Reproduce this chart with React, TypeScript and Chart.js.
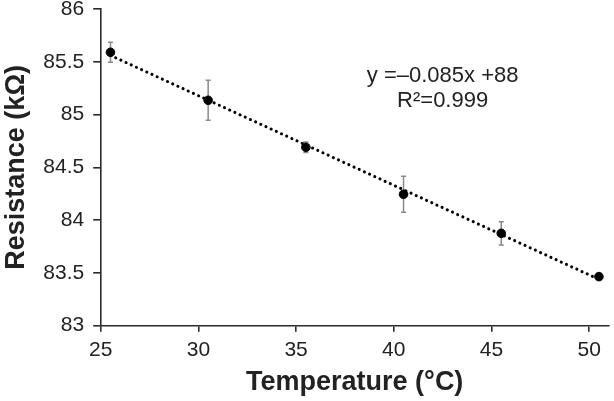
import React, { useEffect, useRef } from "react";
import { Chart, registerables } from "chart.js";

Chart.register(...registerables);

// ---- Data ----
const temperatures = [25.5, 30.5, 35.5, 40.5, 45.5, 50.5];
const resistance = [85.59, 85.135, 84.69, 84.245, 83.875, 83.465];
const errors = [0.095, 0.19, 0.05, 0.17, 0.11, 0.0];
const xTicks = [25, 30, 35, 40, 45, 50];
const yTicks = [83, 83.5, 84, 84.5, 85, 85.5, 86];
const equationLabel = "y =\u20130.085x +88";
const r2Label = "R\u00B2=0.999";
const xTitle = "Temperature (\u00B0C)";
const yTitle = "Resistance (k\u03A9)";

const FONT = "'Liberation Sans', Arial, Helvetica, sans-serif";

function regression(xs: number[], ys: number[]) {
  const n = xs.length;
  const mx = xs.reduce((a, b) => a + b, 0) / n;
  const my = ys.reduce((a, b) => a + b, 0) / n;
  let sxy = 0;
  let sxx = 0;
  for (let i = 0; i < n; i++) {
    sxy += (xs[i] - mx) * (ys[i] - my);
    sxx += (xs[i] - mx) * (xs[i] - mx);
  }
  const slope = sxy / sxx;
  return { slope, intercept: my - slope * mx };
}

export default function App() {
  const ref = useRef<HTMLCanvasElement | null>(null);

  useEffect(() => {
    if (!ref.current) return;
    const fit = regression(temperatures, resistance);
    const x0 = temperatures[0];
    const x1 = temperatures[temperatures.length - 1];
    const trend = [
      { x: x0, y: fit.intercept + fit.slope * x0 },
      { x: x1, y: fit.intercept + fit.slope * x1 },
    ];

    const extras = {
      id: "extras",
      beforeDatasetsDraw(chart: any) {
        const ctx = chart.ctx;
        const xs = chart.scales.x;
        const ys = chart.scales.y;
        ctx.save();
        ctx.strokeStyle = "#8a8a8a";
        ctx.lineWidth = 1.5;
        temperatures.forEach((t, i) => {
          const e = errors[i];
          if (!e) return;
          const px = xs.getPixelForValue(t);
          const top = ys.getPixelForValue(resistance[i] + e);
          const bot = ys.getPixelForValue(resistance[i] - e);
          ctx.beginPath();
          ctx.moveTo(px, top);
          ctx.lineTo(px, bot);
          ctx.moveTo(px - 2.5, top);
          ctx.lineTo(px + 2.5, top);
          ctx.moveTo(px - 2.5, bot);
          ctx.lineTo(px + 2.5, bot);
          ctx.stroke();
        });
        ctx.restore();
      },
      afterDraw(chart: any) {
        const ctx = chart.ctx;
        const xs = chart.scales.x;
        const ys = chart.scales.y;
        ctx.save();
        ctx.fillStyle = "#222";
        ctx.font = `22px ${FONT}`;
        ctx.textAlign = "center";
        ctx.textBaseline = "middle";
        const cx = xs.getPixelForValue(42.5);
        ctx.fillText(equationLabel, cx, ys.getPixelForValue(85.37));
        ctx.fillText(r2Label, cx, ys.getPixelForValue(85.125));
        ctx.restore();
      },
    };

    const chart = new Chart(ref.current, {
      type: "scatter",
      data: {
        datasets: [
          {
            label: "Resistance",
            data: temperatures.map((t, i) => ({ x: t, y: resistance[i] })),
            backgroundColor: "#000",
            borderColor: "#000",
            pointRadius: 4.3,
            pointHoverRadius: 4.3,
            showLine: false,
          },
          {
            label: "Trend",
            type: "line",
            data: trend,
            borderColor: "#000",
            borderWidth: 3,
            borderDash: [0.1, 5.6],
            borderCapStyle: "round",
            pointRadius: 0,
            fill: false,
          } as any,
        ],
      },
      options: {
        animation: false,
        responsive: false,
        devicePixelRatio: 1,
        layout: { padding: { top: 9, left: 0, right: 0, bottom: 0 } },
        plugins: {
          legend: { display: false },
          tooltip: { enabled: false },
          title: { display: false },
        },
        scales: {
          x: {
            type: "linear",
            min: 25,
            max: 51,
            afterBuildTicks: (scale: any) => {
              scale.ticks = xTicks.map((v) => ({ value: v }));
            },
            afterFit: (scale: any) => {
              scale.height = 75.3;
              scale.paddingLeft = 0;
              scale.paddingRight = 0;
            },
            border: { display: true, color: "#2a2a2a", width: 1.6 },
            grid: {
              display: true,
              drawOnChartArea: false,
              drawTicks: true,
              tickLength: 6,
              color: "#2a2a2a",
              lineWidth: 1.6,
            },
            ticks: {
              color: "#222",
              font: { family: FONT, size: 21 },
              padding: 6,
              maxRotation: 0,
              callback: (v: any) => String(v),
            },
            title: {
              display: true,
              text: xTitle,
              color: "#222",
              font: { family: FONT, size: 27, weight: "bold" },
              padding: { top: 0, bottom: 2 },
            },
          },
          y: {
            type: "linear",
            min: 83,
            max: 86,
            afterBuildTicks: (scale: any) => {
              scale.ticks = yTicks.map((v) => ({ value: v }));
            },
            afterFit: (scale: any) => {
              scale.width = 100.7;
              scale.paddingTop = 0;
              scale.paddingBottom = 0;
            },
            border: { display: true, color: "#2a2a2a", width: 1.6 },
            grid: {
              display: true,
              drawOnChartArea: false,
              drawTicks: true,
              tickLength: 7.5,
              color: "#2a2a2a",
              lineWidth: 1.6,
            },
            ticks: {
              color: "#222",
              font: { family: FONT, size: 21 },
              padding: 9,
              callback: (v: any) => String(v),
            },
            title: {
              display: true,
              text: yTitle,
              color: "#222",
              font: { family: FONT, size: 27, weight: "bold" },
              padding: { top: 0, bottom: 0 },
            },
          },
        },
      },
      plugins: [extras],
    } as any);

    return () => chart.destroy();
  }, []);

  return (
    <div style={{ position: "absolute", left: 0, top: 0, width: 614, height: 401, background: "#fff" }}>
      <canvas ref={ref} width={614} height={401} style={{ display: "block" }} />
    </div>
  );
}
